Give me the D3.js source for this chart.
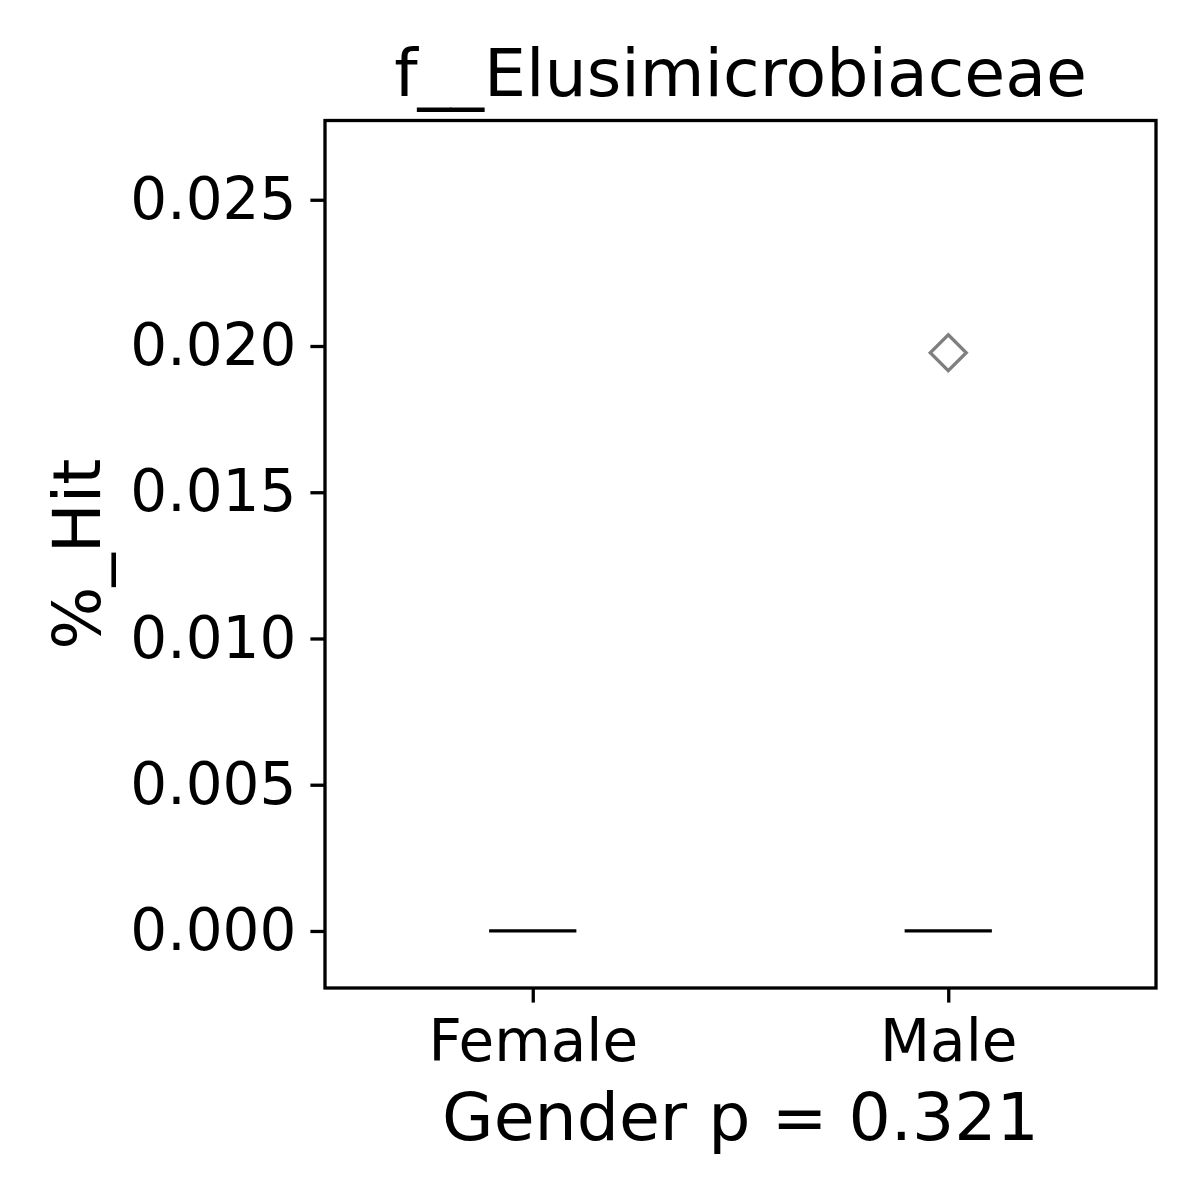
<!DOCTYPE html>
<html><head><meta charset="utf-8">
<script src="https://cdn.jsdelivr.net/npm/d3@7"></script>
<style>html,body{margin:0;padding:0;background:#fff;}</style>
</head><body>
<svg id="c" width="1200" height="1200"></svg>
<script>
const categories = ["Female", "Male"];
const q1 = [0, 0];
const medians = [0, 0];
const q3 = [0, 0];
const whiskerLow = [0, 0];
const whiskerHigh = [0, 0];
const fliers = [[], [0.01977]];
const yTicks = [0, 0.005, 0.010, 0.015, 0.020, 0.025];
const title = "f__Elusimicrobiaceae";
const xLabel = "Gender p = 0.321";
const yLabel = "%_Hit";

const svg = d3.select("#c");
const L = 325, R = 1156, T = 120.5, B = 988;
const x = d3.scaleLinear().domain([-0.5, 1.5]).range([L, R]);
const y = d3.scaleLinear().domain([-0.00195, 0.02771]).range([B, T]);
const font = "DejaVu Sans, sans-serif";
const lw = 3.3;
const boxW = 0.21;

const g = svg.append("g");
const yAxis = d3.axisLeft(y).tickValues(yTicks).tickFormat(d3.format(".3f")).tickSizeOuter(0).tickSizeInner(14.6).tickPadding(14);
const ya = svg.append("g").attr("transform", `translate(${L},0)`).call(yAxis);
ya.select(".domain").remove();
ya.selectAll("line").attr("stroke", "#000").attr("stroke-width", lw);
ya.selectAll("text").attr("font-family", font).attr("font-size", 58).attr("fill", "#000");

const xAxis = d3.axisBottom(x).tickValues(categories.map((d, i) => i)).tickFormat(i => categories[i]).tickSizeOuter(0).tickSizeInner(14.6).tickPadding(17);
const xa = svg.append("g").attr("transform", `translate(0,${B})`).call(xAxis);
xa.select(".domain").remove();
xa.selectAll("line").attr("stroke", "#000").attr("stroke-width", lw);
xa.selectAll("text").attr("font-family", font).attr("font-size", 58).attr("fill", "#000");

categories.forEach((c, i) => {
  const x0 = x(i - boxW / 2), x1 = x(i + boxW / 2), cx = x(i);
  g.append("line").attr("x1", cx).attr("x2", cx).attr("y1", y(whiskerLow[i])).attr("y2", y(q1[i])).attr("stroke", "#000").attr("stroke-width", lw);
  g.append("line").attr("x1", cx).attr("x2", cx).attr("y1", y(q3[i])).attr("y2", y(whiskerHigh[i])).attr("stroke", "#000").attr("stroke-width", lw);
  g.append("rect").attr("x", x0).attr("width", x1 - x0).attr("y", y(q3[i])).attr("height", y(q1[i]) - y(q3[i]))
    .attr("fill", "none").attr("stroke", "#000").attr("stroke-width", lw);
  g.append("line").attr("x1", x0).attr("x2", x1).attr("y1", y(medians[i])).attr("y2", y(medians[i])).attr("stroke", "#000").attr("stroke-width", lw);
  fliers[i].forEach(v => {
    const px = cx, py = y(v), s = 18;
    g.append("path").attr("d", `M${px},${py - s}L${px + s},${py}L${px},${py + s}L${px - s},${py}Z`)
      .attr("fill", "none").attr("stroke", "#7f7f7f").attr("stroke-width", 3.3);
  });
});

svg.append("rect").attr("x", L).attr("y", T).attr("width", R - L).attr("height", B - T)
  .attr("fill", "none").attr("stroke", "#000").attr("stroke-width", lw);

svg.append("text").attr("x", (L + R) / 2).attr("y", 96).attr("text-anchor", "middle")
  .attr("font-family", font).attr("font-size", 66.5).text(title);
svg.append("text").attr("x", (L + R) / 2).attr("y", 1140).attr("text-anchor", "middle")
  .attr("font-family", font).attr("font-size", 66.5).text(xLabel);
svg.append("text").attr("transform", `translate(100,${(T + B) / 2}) rotate(-90)`).attr("text-anchor", "middle")
  .attr("font-family", font).attr("font-size", 66.5).text(yLabel);
</script>
</body></html>
